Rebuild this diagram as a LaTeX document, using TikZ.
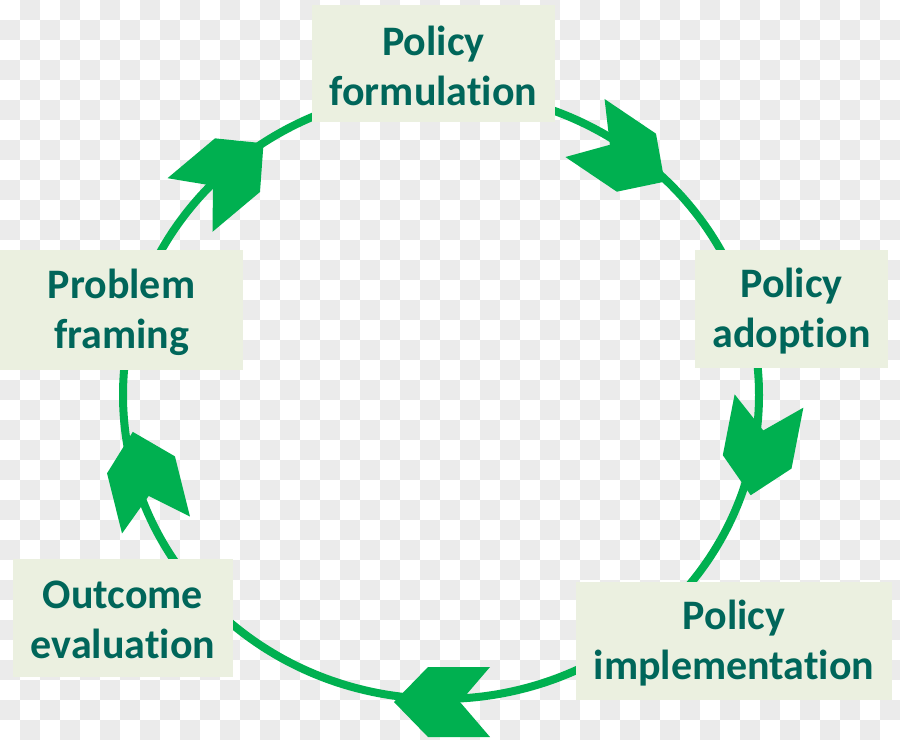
\documentclass[tikz,border=0pt]{standalone}
\usepackage{fontspec}
\setmainfont{Carlito}[Ligatures={NoCommon,NoContextual}]
\definecolor{checkgray}{RGB}{235,235,235}
\definecolor{ringgreen}{RGB}{0,176,80}
\definecolor{boxfill}{RGB}{235,240,224}
\definecolor{textteal}{RGB}{0,102,90}
\tikzset{
  ringline/.style={draw=ringgreen, line width=8pt},
  stagebox/.style={fill=boxfill, draw=none, inner sep=0pt, align=center,
    text=textteal, font=\bfseries\fontsize{42}{50}\selectfont},
  chev/.pic={\fill[ringgreen] (0,35) -- (62,35) -- (96,0) -- (62,-35) -- (0,-35) -- (30,0) -- cycle;}
}
\begin{document}
\begin{tikzpicture}[x=1pt,y=-1pt]
\useasboundingbox (0,0) rectangle (900,740);
\clip (0,0) rectangle (900,740);
\fill[white] (0,0) rectangle (900,740);
\foreach \j in {0,...,36}{
  \pgfmathtruncatemacro\off{mod(\j,2)==0 ? 20 : 0}
  \foreach \i in {0,40,...,880}{
    \fill[checkgray] (\i+\off,\j*20) rectangle ++(20,20);
  }
}
% ring
\draw[ringline] (441,395) ellipse [x radius=318pt, y radius=304pt];
% arrowheads
\pic[rotate=-34] at (585,128) {chev};
\pic[rotate=-101] at (769,401) {chev};
\pic[rotate=180] at (490,702) {chev};
\pic[rotate=104] at (156,525) {chev};
\pic[rotate=40] at (190,205) {chev};
% stage boxes
\node[stagebox, minimum width=243pt, minimum height=117pt] (pf) at (433.5,63.5) {};
\node[stagebox, minimum width=193pt, minimum height=118pt] (pa) at (791.5,309) {};
\node[stagebox, minimum width=316pt, minimum height=118pt] (pim) at (734,641) {};
\node[stagebox, minimum width=220pt, minimum height=118pt] (oe) at (123,618) {};
\node[stagebox, minimum width=243pt, minimum height=120pt] (pfr) at (121.5,310) {};
\node[stagebox, fill=none] (pft) at ([yshift=-2pt]pf.center) {Policy\\formulation};
\node[stagebox, fill=none] (pat) at ([yshift=-2pt]pa.center) {Policy\\adoption};
\node[stagebox, fill=none] (pimt) at ([yshift=-2pt]pim.center) {Policy\\implementation};
\node[stagebox, fill=none] (oet) at ([yshift=-2pt]oe.center) {Outcome\\evaluation};
\node[stagebox, fill=none] (pfrt) at ([yshift=-2pt]pfr.center) {Problem\\framing};
\end{tikzpicture}
\end{document}
